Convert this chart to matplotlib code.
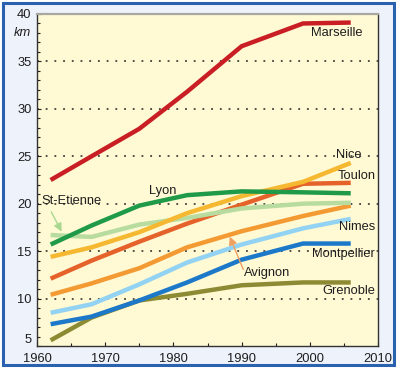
import matplotlib
matplotlib.use("Agg")
import matplotlib.pyplot as plt
from matplotlib.patches import Rectangle
from matplotlib.ticker import MultipleLocator

years = [1962, 1968, 1975, 1982, 1990, 1999, 2006]
marseille   = [22.5, 25.0, 27.9, 31.8, 36.6, 39.0, 39.1]
lyon        = [15.7, 17.7, 19.8, 20.9, 21.3, 21.2, 21.1]
st_etienne  = [16.7, 16.5, 17.8, 18.5, 19.5, 20.0, 20.1]
nice        = [14.4, 15.4, 17.0, 19.0, 20.8, 22.3, 24.3]
toulon      = [12.1, 14.0, 16.0, 17.9, 19.9, 22.1, 22.2]
avignon     = [10.4, 11.6, 13.2, 15.4, 17.1, 18.7, 19.8]
nimes       = [8.5, 9.4, 11.5, 13.8, 15.7, 17.4, 18.4]
montpellier = [7.3, 8.1, 9.8, 11.7, 14.1, 15.8, 15.8]
grenoble    = [5.6, 8.0, 9.8, 10.5, 11.4, 11.7, 11.7]

x_ticks = [1960, 1970, 1980, 1990, 2000, 2010]
y_ticks = [5, 10, 15, 20, 25, 30, 35, 40]
grid_values = [10, 15, 20, 25, 30, 35]

plt.rcParams['font.family'] = ['Liberation Sans', 'DejaVu Sans']

fig = plt.figure(figsize=(4.0, 3.7), dpi=100)
fig.patch.set_facecolor('white')
bg = Rectangle((3/400, 5/370), 391/400, 362/370, transform=fig.transFigure,
               facecolor='#EEF2FB', edgecolor='#2A62B0', linewidth=2.2, zorder=-10)
fig.add_artist(bg)

ax = fig.add_axes([37/400, 1 - 346/370, 341/400, 332/370])
ax.set_zorder(5)
ax.set_facecolor('#FFF9D4')
ax.set_xlim(1960, 2010)
ax.set_ylim(5, 40)

for g in grid_values:
    ax.axhline(g, color='#222222', linestyle=(0, (1.2, 4.5)), linewidth=1.1, zorder=1)

series = [
    (grenoble, '#8C8A32'),
    (montpellier, '#1C78C8'),
    (nimes, '#92D2F2'),
    (avignon, '#F39A32'),
    (toulon, '#E5622A'),
    (st_etienne, '#B8DCA0'),
    (nice, '#F5B830'),
    (lyon, '#1E9A48'),
    (marseille, '#C81E24'),
]
for vals, col in series:
    ax.plot(years, vals, color=col, linewidth=3.2, solid_capstyle='butt', zorder=3)

fs = 9.3
tc = '#1E1E1E'
ax.text(2007.8, 37.95, 'Marseille', ha='right', va='center', fontsize=fs, color=tc, zorder=5)
ax.text(2007.6, 25.1, 'Nice', ha='right', va='center', fontsize=fs, color=tc, zorder=5)
ax.text(2009.6, 22.9, 'Toulon', ha='right', va='center', fontsize=fs, color=tc, zorder=5)
ax.text(1978.5, 21.35, 'Lyon', ha='center', va='center', fontsize=fs, color=tc, zorder=5)
ax.text(1960.6, 20.3, 'St-Etienne', ha='left', va='center', fontsize=fs, color=tc, zorder=5)
ax.text(2009.6, 17.55, 'Nimes', ha='right', va='center', fontsize=fs, color=tc, zorder=5)
ax.text(2009.6, 14.7, 'Montpellier', ha='right', va='center', fontsize=fs, color=tc, zorder=5)
ax.text(1990.4, 12.65, 'Avignon', ha='left', va='center', fontsize=fs, color=tc, zorder=5)
ax.text(2009.6, 10.75, 'Grenoble', ha='right', va='center', fontsize=fs, color=tc, zorder=5)

ax.annotate('', xy=(1963.8, 16.8), xytext=(1961.9, 19.4),
            arrowprops=dict(arrowstyle='-|>', color='#A8D890', lw=1.0, mutation_scale=12), zorder=4)
ax.annotate('', xy=(1988.1, 16.8), xytext=(1990.4, 12.8),
            arrowprops=dict(arrowstyle='-|>', color='#F0A060', lw=1.0, mutation_scale=12), zorder=4)

ax.set_xticks(x_ticks)
ax.set_yticks(y_ticks)
ax.xaxis.set_minor_locator(MultipleLocator(5))
ax.yaxis.set_minor_locator(MultipleLocator(1))
ax.tick_params(axis='both', which='major', direction='in', length=3, width=0.8,
               labelsize=fs, colors=tc)
ax.tick_params(axis='x', which='major', pad=5)
ax.tick_params(axis='y', which='major', pad=4)
ax.tick_params(axis='both', which='minor', direction='in', length=2, width=0.8, colors=tc)
ax.tick_params(axis='y', which='both', right=False)
ax.tick_params(axis='x', which='both', top=False)
ax.get_yticklabels()[0].set_verticalalignment('bottom')

ax.text(-0.018, 0.962, 'km', transform=ax.transAxes, ha='right', va='top',
        fontsize=fs, style='italic', color=tc)

for side in ['left', 'bottom', 'right']:
    ax.spines[side].set_color('#333333')
    ax.spines[side].set_linewidth(1.0)
ax.spines['top'].set_color('#A8A8A0')
ax.spines['top'].set_linewidth(1.6)

fig.savefig('out.png', dpi=100)
